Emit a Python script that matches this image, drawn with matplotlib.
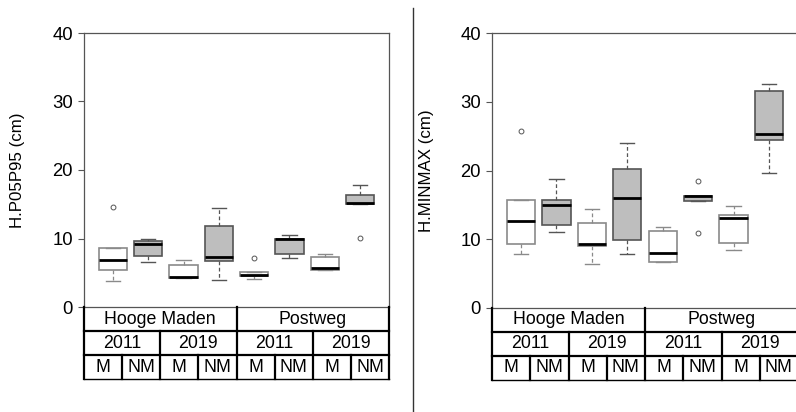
"""Boxplots of H.P05P95 and H.MINMAX by site / year / management, with R-style grouping table."""
import matplotlib
matplotlib.use("Agg")
import matplotlib.pyplot as plt
from matplotlib.lines import Line2D

plt.rcParams["font.family"] = ["Liberation Sans", "DejaVu Sans"]

SITES = ["Hooge Maden", "Postweg"]
YEARS = ["2011", "2019"]
MGMT = ["M", "NM"]

# H.P05P95 (cm): per group whislo, q1, median, q3, whishi, outliers
p_lo = [3.8, 6.6, 4.2, 3.9, 4.1, 7.2, 5.4, 15.0]
p_q1 = [5.35, 7.45, 4.25, 6.7, 4.55, 7.75, 5.45, 15.0]
p_med = [6.8, 9.2, 4.4, 7.3, 4.65, 9.95, 5.65, 15.25]
p_q3 = [8.65, 9.7, 6.1, 11.8, 5.05, 10.0, 7.35, 16.3]
p_hi = [8.65, 10.0, 6.8, 14.45, 5.05, 10.55, 7.7, 17.75]
p_out = [[14.65], [], [], [], [7.1], [], [], [10.1]]

# H.MINMAX (cm)
m_lo = [7.85, 11.0, 6.45, 7.85, 6.75, 15.55, 8.45, 19.6]
m_q1 = [9.25, 12.05, 8.95, 9.9, 6.75, 15.55, 9.45, 24.4]
m_med = [12.7, 15.0, 9.25, 15.95, 8.05, 16.25, 13.05, 25.3]
m_q3 = [15.65, 15.65, 12.3, 20.2, 11.25, 16.35, 13.55, 31.55]
m_hi = [15.65, 18.75, 14.35, 23.95, 11.75, 16.35, 14.9, 32.55]
m_out = [[25.75], [], [], [], [], [18.5, 10.95], [], []]

W, H = 796, 412
fig = plt.figure(figsize=(W / 100, H / 100), dpi=100)


def px_axes(x0, y0, x1, y1):
    return fig.add_axes([x0 / W, 1 - y1 / H, (x1 - x0) / W, (y1 - y0) / H])


def stats(lo, q1, med, q3, hi, out):
    return [dict(whislo=a, q1=b, med=c, q3=d, whishi=e, fliers=f)
            for a, b, c, d, e, f in zip(lo, q1, med, q3, hi, out)]


def panel(x0, x1, y1, st, ylabel, ylab_x):
    ax = px_axes(x0, 33, x1, y1)
    pos = list(range(1, 9))
    for i, s in enumerate(st):
        grey = i % 2 == 1
        fc = "#bebebe" if grey else "white"
        ec = "#555555" if grey else "#8a8a8a"
        ax.bxp([s], positions=[pos[i]], widths=0.8, patch_artist=True,
               boxprops=dict(facecolor=fc, edgecolor=ec, linewidth=1.2),
               medianprops=dict(color="black", linewidth=2.0),
               whiskerprops=dict(color=ec, linewidth=0.9, linestyle=(0, (3, 2))),
               capprops=dict(color=ec, linewidth=1.0),
               flierprops=dict(marker="o", markersize=3.5, markerfacecolor="none",
                               markeredgecolor="#555555", markeredgewidth=0.7),
               capwidths=0.4)
    ax.set_xlim(0.18, 8.82)
    ax.set_ylim(0, 40)
    ax.set_yticks([0, 10, 20, 30, 40])
    ax.set_xticks([])
    ax.tick_params(axis="y", labelsize=13.3, length=4, width=0.8, pad=4,
                   color="#555555")
    for sp in ax.spines.values():
        sp.set_color("#555555")
        sp.set_linewidth(0.9)
    fig.text(ylab_x / W, 1 - ((33 + y1) / 2) / H, ylabel, rotation=90,
             ha="center", va="center", fontsize=12.2)

    # grouping table under the plot
    tb = px_axes(x0, y1, x1, y1 + 72)
    tb.set_xlim(0, 8)
    tb.set_ylim(0, 3)
    tb.axis("off")
    lw = 1.6
    for y in [0, 1, 2]:
        tb.plot([0, 8], [y, y], color="black", lw=lw if y else 1.0, clip_on=False)
    for x in [0, 4, 8]:
        tb.plot([x, x], [0, 3], color="black", lw=lw, clip_on=False)
    for x in [2, 6]:
        tb.plot([x, x], [0, 2], color="black", lw=lw, clip_on=False)
    for x in [1, 3, 5, 7]:
        tb.plot([x, x], [0, 1], color="black", lw=lw, clip_on=False)
    fs = 12.8
    for i, s in enumerate(SITES):
        tb.text(i * 4 + 2, 2.5, s, ha="center", va="center", fontsize=fs)
        for j, yv in enumerate(YEARS):
            tb.text(i * 4 + j * 2 + 1, 1.5, yv, ha="center", va="center", fontsize=fs)
            for k, m in enumerate(MGMT):
                tb.text(i * 4 + j * 2 + k + 0.5, 0.5, m, ha="center", va="center",
                        fontsize=fs)
    return ax


panel(84, 389, 307, stats(p_lo, p_q1, p_med, p_q3, p_hi, p_out),
      "H.P05P95 (cm)", 18)
panel(492, 798, 308, stats(m_lo, m_q1, m_med, m_q3, m_hi, m_out),
      "H.MINMAX (cm)", 427)

# separator between the two panels
fig.add_artist(Line2D([413 / W, 413 / W], [1 - 8 / H, 0], color="#333333", lw=1.0))

fig.savefig("out.png", dpi=100)
